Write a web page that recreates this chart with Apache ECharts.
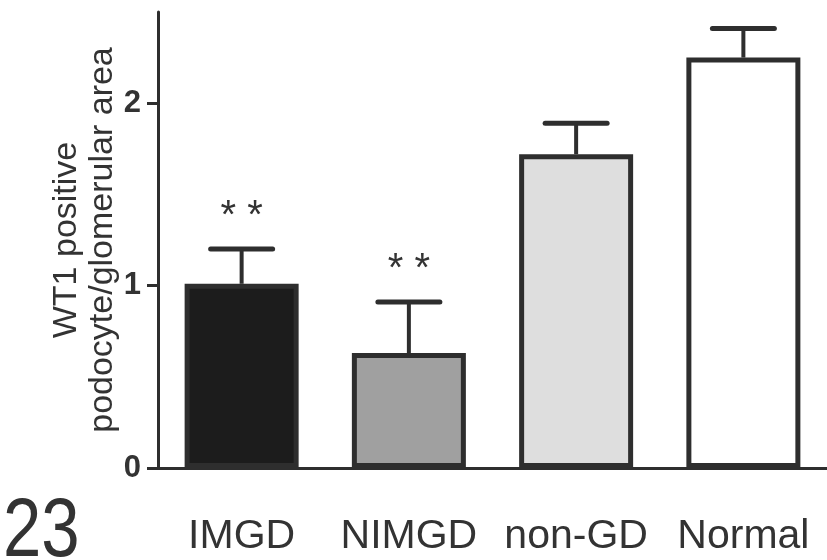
<!DOCTYPE html>
<html>
<head>
<meta charset="utf-8">
<script src="https://cdn.jsdelivr.net/npm/echarts@6/dist/echarts.min.js"></script>
<style>html,body{margin:0;padding:0;background:#fff}#c{width:827px;height:560px}</style>
</head>
<body>
<div id="c"></div>
<script>
var categories = ['IMGD', 'NIMGD', 'non-GD', 'Normal'];
var means = [1.01, 0.63, 1.72, 2.25];
var errTops = [1.20, 0.91, 1.89, 2.41];
var stars = ['* *', '* *', '', ''];
var yTicks = [0, 1, 2];
var fills = ['#1c1c1c', '#a0a0a0', '#dedede', '#ffffff'];

var FONT = '"Liberation Sans", Arial, sans-serif';
var INK = '#2e2e2e';

var chart = echarts.init(document.getElementById('c'));
chart.setOption({
  backgroundColor: '#ffffff',
  animation: false,
  grid: { left: 158, top: 12, width: 672, bottom: 92 },
  xAxis: {
    type: 'category',
    data: categories,
    axisLine: { lineStyle: { color: INK, width: 3 } },
    axisTick: { alignWithLabel: true, length: 12, lineStyle: { color: INK, width: 3 } },
    axisLabel: { interval: 0, color: '#333', fontFamily: FONT, fontSize: 41, margin: 48 }
  },
  yAxis: {
    type: 'value',
    min: 0, max: 2.5, interval: 1,
    splitLine: { show: false },
    axisLine: { show: true, lineStyle: { color: INK, width: 3 } },
    axisTick: { show: true, length: 11, customValues: yTicks, lineStyle: { color: INK, width: 3 } },
    axisLabel: { customValues: yTicks, color: '#333', fontFamily: FONT, fontWeight: 'bold', fontSize: 31, margin: 17 },
    name: 'WT1 positive\npodocyte/glomerular area',
    nameLocation: 'middle',
    nameRotate: 90,
    nameGap: 37,
    nameMoveOverlap: false,
    nameTextStyle: { color: '#333', fontFamily: FONT, fontSize: 34, lineHeight: 36 }
  },
  series: [
    {
      type: 'bar',
      barWidth: 114,
      data: means.map(function (v, i) {
        return { value: v, itemStyle: { color: fills[i], borderColor: INK, borderWidth: 5 } };
      }),
      z: 3
    },
    {
      type: 'custom',
      z: 2,
      data: means.map(function (v, i) { return [i, v, errTops[i]]; }),
      renderItem: function (params, api) {
        var i = api.value(0);
        var base = api.coord([i, api.value(1)]);
        var top = api.coord([i, api.value(2)]);
        var half = 31;
        var children = [
          { type: 'line', shape: { x1: base[0], y1: base[1], x2: top[0], y2: top[1] }, style: { stroke: INK, lineWidth: 4 } },
          { type: 'line', shape: { x1: top[0] - half, y1: top[1], x2: top[0] + half, y2: top[1] }, style: { stroke: INK, lineWidth: 5, lineCap: 'round' } }
        ];
        var s = stars[params.dataIndex];
        if (s) {
          children.push({ type: 'text', x: top[0], y: top[1] - 32, style: { text: s, fill: '#333', font: '40px ' + FONT, align: 'center', verticalAlign: 'middle' } });
        }
        return { type: 'group', children: children };
      }
    }
  ],
  graphic: [
    { type: 'text', left: 3, top: 491, scaleX: 0.82, style: { text: '23', fill: '#333', font: '84px ' + FONT } }
  ]
});
</script>
</body>
</html>
